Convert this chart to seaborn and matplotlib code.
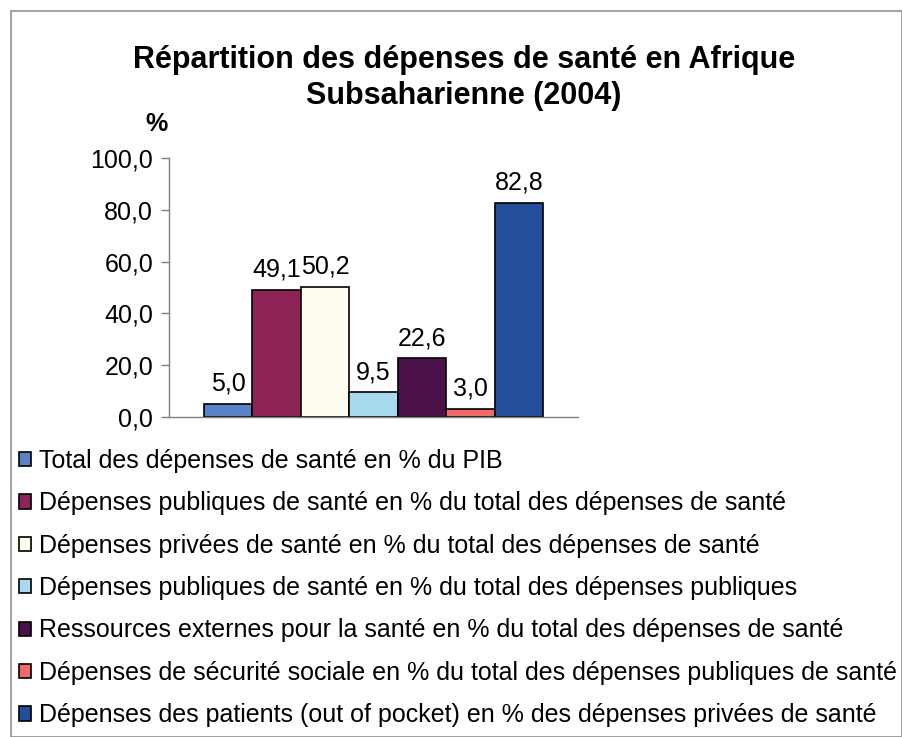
import matplotlib
matplotlib.use("Agg")
import matplotlib.pyplot as plt
import seaborn as sns
import pandas as pd
from matplotlib.patches import Rectangle

series = [
    "Total des dépenses de santé en % du PIB",
    "Dépenses publiques de santé en % du total des dépenses de santé",
    "Dépenses privées de santé en % du total des dépenses de santé",
    "Dépenses publiques de santé en % du total des dépenses publiques",
    "Ressources externes pour la santé en % du total des dépenses de santé",
    "Dépenses de sécurité sociale en % du total des dépenses publiques de santé",
    "Dépenses des patients (out of pocket) en % des dépenses privées de santé",
]
values = [5.0, 49.1, 50.2, 9.5, 22.6, 3.0, 82.8]
colors = ["#5a80c6", "#8e2355", "#fffdf2", "#a9d9ec", "#4a1248", "#f06a6a", "#224e9c"]
yticks = [0, 20, 40, 60, 80, 100]
title = "Répartition des dépenses de santé en Afrique\nSubsaharienne (2004)"

sns.set_theme(style="white")
plt.rcParams["font.family"] = ["Liberation Sans", "DejaVu Sans"]
plt.rcParams["text.color"] = "black"
plt.rcParams["xtick.color"] = "black"
plt.rcParams["ytick.color"] = "black"

df = pd.DataFrame({"cat": ["2004"] * len(values), "serie": series, "val": values})

fig = plt.figure(figsize=(9.03, 7.37), dpi=100)
ax = fig.add_axes([169 / 903, 1 - 417 / 737, (578 - 169) / 903, (417 - 158) / 737])

sns.barplot(data=df, x="cat", y="val", hue="serie", hue_order=series,
            palette=colors, saturation=1, width=0.83, dodge=True, ax=ax,
            edgecolor="black", linewidth=1.2, legend=True)

for c in ax.containers:
    ax.bar_label(c, labels=[f"{v:.1f}".replace(".", ",") for v in c.datavalues],
                 padding=6, fontsize=18, color="black")

ax.set_xlim(-0.5, 0.5)
ax.set_ylim(0, 100)
ax.set_yticks(yticks)
ax.set_yticklabels([f"{v:.1f}".replace(".", ",") for v in yticks], fontsize=18)
ax.set_xticks([])
ax.set_xlabel("")
ax.set_ylabel("")
for s in ["top", "right"]:
    ax.spines[s].set_visible(False)
for s in ["left", "bottom"]:
    ax.spines[s].set_color("#808080")
    ax.spines[s].set_linewidth(1)
ax.tick_params(axis="y", length=6, width=1, color="#808080", labelcolor="black",
               direction="out", pad=5.5, left=True)

ax.text(-0.03, 1.13, "%", transform=ax.transAxes, fontsize=18, fontweight="bold",
        ha="center", va="center")

fig.text(464 / 903, 1 - 78 / 737, title, ha="center", va="center", fontsize=22,
         fontweight="bold", linespacing=1.25)

handles, labels = ax.get_legend_handles_labels()
ax.get_legend().remove()
leg = fig.legend(handles, labels, loc="upper left", bbox_to_anchor=(0.021, 1 - 449 / 737),
                 frameon=False, fontsize=18, handlelength=0.5, handleheight=0.5,
                 handletextpad=0.3, labelspacing=0.735, borderaxespad=0, borderpad=0)
for h in leg.legend_handles:
    h.set_edgecolor("black")
    h.set_linewidth(1.2)

fig.patches.append(Rectangle((11 / 903, 0.0), 1 - 11 / 903 - 0.001, 1 - 11 / 737,
                             transform=fig.transFigure, fill=False,
                             edgecolor="#909090", linewidth=1.2))

fig.savefig("out.png", dpi=100)
